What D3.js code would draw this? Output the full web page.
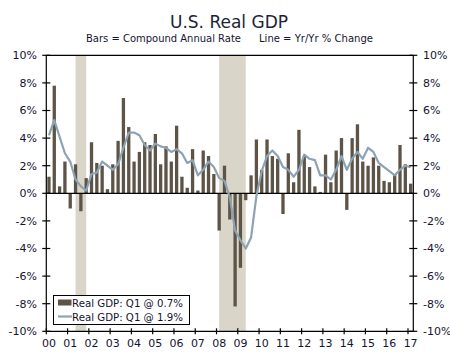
<!DOCTYPE html>
<html><head><meta charset="utf-8">
<script src="https://cdn.jsdelivr.net/npm/d3@7"></script>
<style>
body{margin:0;background:#fff}
svg text{font-family:Verdana,"DejaVu Sans",sans-serif}
</style>
</head><body>
<svg id="chart" width="450" height="355"></svg>
<script>
// ---------- data ----------
const years = [2000,2001,2002,2003,2004,2005,2006,2007,2008,2009,2010,2011,2012,2013,2014,2015,2016,2017];
const quarterNames = ["Q1","Q2","Q3","Q4"];
const quarters = years.flatMap(y => quarterNames.map(q => y + q)).slice(0, 69); // 2000Q1 .. 2017Q1

// Compound annual rate (bars)
const barValues = [
  1.2, 7.8, 0.5, 2.3,
 -1.1, 2.1,-1.3, 1.1,
  3.7, 2.2, 2.0, 0.3,
  2.1, 3.8, 6.9, 4.8,
  2.3, 3.0, 3.7, 3.5,
  4.3, 2.1, 3.4, 2.3,
  4.9, 1.2, 0.4, 3.2,
  0.2, 3.1, 2.7, 1.4,
 -2.7, 2.0,-1.9,-8.2,
 -5.4,-0.5, 1.3, 3.9,
  1.7, 3.9, 2.7, 2.5,
 -1.5, 2.9, 0.8, 4.6,
  2.7, 1.9, 0.5, 0.1,
  2.8, 0.8, 3.1, 4.0,
 -1.2, 4.0, 5.0, 2.3,
  2.0, 2.6, 2.0, 0.9,
  0.8, 1.4, 3.5, 2.1,
  0.7
];
// Yr/Yr % change (line)
const lineValues = [
  4.2, 5.3, 4.1, 2.9,
  2.3, 1.0, 0.5, 0.2,
  1.4, 1.5, 2.3, 2.0,
  1.7, 2.1, 3.3, 4.4,
  4.4, 4.2, 3.5, 3.1,
  3.6, 3.4, 3.3, 3.0,
  3.2, 2.9, 2.2, 2.4,
  1.3, 1.7, 2.3, 1.9,
  1.1, 0.9,-0.3,-2.7,
 -3.4,-4.0,-3.2,-0.2,
  1.6, 2.7, 3.1, 2.7,
  1.9, 1.7, 1.2, 1.7,
  2.8, 2.5, 2.4, 1.3,
  1.3, 1.0, 1.7, 2.7,
  1.7, 2.5, 3.0, 2.5,
  3.3, 3.0, 2.2, 1.9,
  1.6, 1.3, 1.7, 2.0,
  1.9
];
const recessions = [["2001Q2","2001Q4"],["2008Q1","2009Q2"]];
const yTicks = [10,8,6,4,2,0,-2,-4,-6,-8,-10];
const xTickLabels = ["00","01","02","03","04","05","06","07","08","09","10","11","12","13","14","15","16","17"];
const titleText = "U.S. Real GDP";
const subtitleLeft = "Bars = Compound Annual Rate";
const subtitleRight = "Line = Yr/Yr % Change";
const legendLabels = ["Real GDP: Q1 @ 0.7%","Real GDP: Q1 @ 1.9%"];

// ---------- layout ----------
const L = 46.3, R = 413.3, T = 55.3, B = 331.3;
const barColor = "#5e5347", lineColor = "#8ca3b3", shadeColor = "#d9d5c8", textColor = "#141432";

const svg = d3.select("#chart");
const pad = 0.38;
const x = d3.scaleBand().domain(quarters).range([L, R]).paddingInner(pad).paddingOuter(pad/2);
const y = d3.scaleLinear().domain([-10, 10]).range([B, T]);
const step = x.step();
const slotStart = q => x(q) - step * pad / 2;
const center = q => x(q) + x.bandwidth() / 2;

// recession shading
svg.append("g").selectAll("rect").data(recessions).join("rect")
  .attr("x", d => center(d[0]))
  .attr("width", d => center(d[1]) - center(d[0]))
  .attr("y", T).attr("height", B - T)
  .attr("fill", shadeColor);

// bars
svg.append("g").selectAll("rect").data(quarters).join("rect")
  .attr("x", q => x(q))
  .attr("width", x.bandwidth())
  .attr("y", (q, i) => y(Math.max(0, barValues[i])))
  .attr("height", (q, i) => Math.abs(y(barValues[i]) - y(0)))
  .attr("fill", barColor);

// zero line
svg.append("line").attr("x1", L).attr("x2", R).attr("y1", y(0)).attr("y2", y(0))
  .attr("stroke", "#000").attr("stroke-width", 1.2);

// yoy line
svg.append("path")
  .datum(quarters)
  .attr("fill", "none").attr("stroke", lineColor).attr("stroke-width", 2.2)
  .attr("stroke-linejoin", "round")
  .attr("d", d3.line().x(q => center(q)).y((q, i) => y(lineValues[i])));

// frame: top border, bottom axis, left & right axes
const frame = svg.append("g").attr("stroke", "#000").attr("stroke-width", 1.2);
frame.append("line").attr("x1", L).attr("x2", R).attr("y1", T).attr("y2", T);
frame.append("line").attr("x1", L).attr("x2", R).attr("y1", B).attr("y2", B);
frame.append("line").attr("x1", L).attr("x2", L).attr("y1", T).attr("y2", B);
frame.append("line").attr("x1", R).attr("x2", R).attr("y1", T).attr("y2", B);

// y ticks both sides
const fmt = d => d + "%";
const yg = svg.append("g");
yTicks.forEach(t => {
  yg.append("line").attr("x1", L - 4).attr("x2", L + 4).attr("y1", y(t)).attr("y2", y(t)).attr("stroke", "#000").attr("stroke-width", 1.2);
  yg.append("line").attr("x1", R - 4).attr("x2", R + 4).attr("y1", y(t)).attr("y2", y(t)).attr("stroke", "#000").attr("stroke-width", 1.2);
  yg.append("text").attr("x", 37).attr("y", y(t)).attr("dy", "0.35em").attr("text-anchor", "end")
    .attr("font-size", 11).attr("fill", textColor).text(fmt(t));
  yg.append("text").attr("x", 423).attr("y", y(t)).attr("dy", "0.35em").attr("text-anchor", "start")
    .attr("font-size", 11).attr("fill", textColor).text(fmt(t));
});

// x ticks
const q1s = quarters.filter(q => q.endsWith("Q1"));
const xg = svg.append("g");
q1s.forEach((q, i) => {
  xg.append("line").attr("x1", slotStart(q)).attr("x2", slotStart(q)).attr("y1", B - 3).attr("y2", B + 3)
    .attr("stroke", "#000").attr("stroke-width", 1.2);
  xg.append("text").attr("x", center(q)).attr("y", 347).attr("text-anchor", "middle")
    .attr("font-size", 11).attr("fill", textColor).text(xTickLabels[i]);
});

// title
svg.append("text").attr("x", 229).attr("y", 28).attr("text-anchor", "middle")
  .attr("font-size", 17).attr("fill", "#1c2436").text(titleText);
svg.append("text").attr("x", 86).attr("y", 42).attr("font-size", 10)
  .attr("textLength", 155).attr("lengthAdjust", "spacingAndGlyphs")
  .attr("fill", textColor).text(subtitleLeft);
svg.append("text").attr("x", 259).attr("y", 42).attr("font-size", 10)
  .attr("textLength", 114).attr("lengthAdjust", "spacingAndGlyphs")
  .attr("fill", textColor).text(subtitleRight);

// legend
const lg = svg.append("g");
lg.append("rect").attr("x", 53.5).attr("y", 295.5).attr("width", 136).attr("height", 29)
  .attr("fill", "#fff").attr("stroke", "#000").attr("stroke-width", 1);
lg.append("rect").attr("x", 58).attr("y", 299.5).attr("width", 13.5).attr("height", 6).attr("fill", barColor);
lg.append("line").attr("x1", 58).attr("x2", 72).attr("y1", 316.5).attr("y2", 316.5).attr("stroke", lineColor).attr("stroke-width", 2.2);
lg.append("text").attr("x", 72).attr("y", 306.5).attr("font-size", 11).attr("fill", textColor)
  .attr("textLength", 111).attr("lengthAdjust", "spacingAndGlyphs").text(legendLabels[0]);
lg.append("text").attr("x", 72).attr("y", 320.5).attr("font-size", 11).attr("fill", textColor)
  .attr("textLength", 111).attr("lengthAdjust", "spacingAndGlyphs").text(legendLabels[1]);
</script>
</body></html>
